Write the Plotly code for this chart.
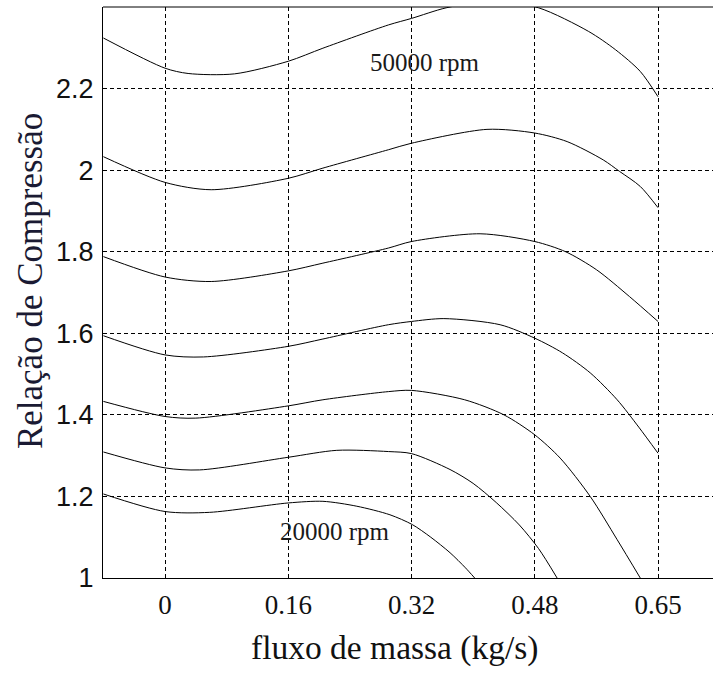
import plotly.graph_objects as go

# Curves: speed lines of the compressor map (x = mass flow kg/s, y = pressure ratio)
x1 = [-0.08, 0.0, 0.03, 0.09, 0.16, 0.205, 0.29, 0.32, 0.365, 0.425, 0.485, 0.55, 0.585, 0.617, 0.64]
y1 = [2.324, 2.25, 2.237, 2.236, 2.267, 2.299, 2.356, 2.372, 2.398, 2.415, 2.398, 2.34, 2.295, 2.242, 2.18]

x2 = [-0.08, 0.0, 0.06, 0.16, 0.205, 0.29, 0.32, 0.418, 0.48, 0.522, 0.569, 0.59, 0.617, 0.64]
y2 = [2.033, 1.970, 1.952, 1.980, 2.005, 2.050, 2.066, 2.100, 2.091, 2.070, 2.025, 1.997, 1.960, 1.908]

x3 = [-0.08, 0.0, 0.06, 0.16, 0.205, 0.29, 0.32, 0.409, 0.48, 0.52, 0.56, 0.603, 0.64]
y3 = [1.788, 1.738, 1.727, 1.753, 1.772, 1.809, 1.825, 1.844, 1.825, 1.80, 1.756, 1.69, 1.629]

x4 = [-0.08, 0.0, 0.05, 0.16, 0.205, 0.29, 0.32, 0.362, 0.435, 0.48, 0.516, 0.552, 0.587, 0.615, 0.64]
y4 = [1.594, 1.547, 1.542, 1.568, 1.586, 1.621, 1.629, 1.636, 1.621, 1.588, 1.552, 1.503, 1.437, 1.37, 1.306]

x5 = [-0.08, 0.0, 0.04, 0.16, 0.205, 0.29, 0.32, 0.389, 0.44, 0.48, 0.513, 0.552, 0.587, 0.617]
y5 = [1.433, 1.396, 1.392, 1.422, 1.437, 1.457, 1.46, 1.437, 1.40, 1.351, 1.294, 1.2, 1.094, 1.0]

x6 = [-0.08, 0.0, 0.045, 0.16, 0.223, 0.29, 0.32, 0.37, 0.40, 0.43, 0.46, 0.485, 0.509]
y6 = [1.309, 1.27, 1.265, 1.296, 1.313, 1.31, 1.305, 1.266, 1.232, 1.185, 1.13, 1.072, 1.0]

x7 = [-0.08, 0.0, 0.058, 0.16, 0.205, 0.249, 0.292, 0.321, 0.345, 0.37, 0.39, 0.402]
y7 = [1.206, 1.163, 1.161, 1.184, 1.188, 1.176, 1.155, 1.131, 1.100, 1.062, 1.025, 1.0]

curves = [(x1, y1), (x2, y2), (x3, y3), (x4, y4), (x5, y5), (x6, y6), (x7, y7)]

x_tickvals = [0, 0.16, 0.32, 0.48, 0.64]
x_ticktext = ["0", "0.16", "0.32", "0.48", "0.65"]
y_tickvals = [1, 1.2, 1.4, 1.6, 1.8, 2, 2.2]
y_ticktext = ["1", "1.2", "1.4", "1.6", "1.8", "2", "2.2"]

label_top = "50000 rpm"
label_bottom = "20000 rpm"
x_title = "fluxo de massa (kg/s)"
y_title = "Relação de Compressão"

fig = go.Figure()
for xs, ys in curves:
    fig.add_trace(go.Scatter(x=xs, y=ys, mode="lines",
                             line=dict(color="black", width=1, shape="spline", smoothing=0.8),
                             showlegend=False, hoverinfo="skip"))

serif = "Liberation Serif, Times New Roman, serif"
sans = "Liberation Sans, Arial, sans-serif"

fig.update_layout(
    width=713, height=675,
    margin=dict(l=103, r=0, t=7, b=97),
    paper_bgcolor="white", plot_bgcolor="white",
    xaxis=dict(range=[-0.0805, 0.7114], tickvals=x_tickvals, ticktext=x_ticktext,
               showgrid=True, gridcolor="black", gridwidth=1, griddash="4px,3px",
               zeroline=False, showline=True, linecolor="black", linewidth=1,
               ticks="inside", ticklen=4, tickcolor="black", ticklabelstandoff=3,
               tickfont=dict(family=serif, size=27, color="#111")),
    yaxis=dict(range=[1, 2.4], tickvals=y_tickvals, ticktext=y_ticktext,
               showgrid=True, gridcolor="black", gridwidth=1, griddash="4px,3px",
               zeroline=False, showline=True, linecolor="black", linewidth=1,
               ticks="inside", ticklen=4, tickcolor="black", ticklabelstandoff=3,
               tickfont=dict(family=sans, size=27, color="#111")),
    shapes=[dict(type="line", xref="paper", yref="paper", x0=0, x1=1, y0=1, y1=1,
                 line=dict(color="black", width=1))],
    annotations=[
        dict(text=label_top, x=0.2635, y=2.263, xref="x", yref="y", xanchor="left",
             yanchor="middle", showarrow=False, font=dict(family=serif, size=25, color="#1a1a1a")),
        dict(text=label_bottom, x=0.1467, y=1.1135, xref="x", yref="y", xanchor="left",
             yanchor="middle", showarrow=False, font=dict(family=serif, size=25, color="#1a1a1a")),
        dict(text=x_title, x=0.478, y=-0.123, xref="paper", yref="paper", xanchor="center",
             yanchor="middle", showarrow=False, font=dict(family=serif, size=33.5, color="#111")),
        dict(text=y_title, x=-0.1197, y=0.52, xref="paper", yref="paper", xanchor="center",
             yanchor="middle", textangle=-90, showarrow=False,
             font=dict(family=serif, size=35, color="#1a1a33")),
    ],
)

fig.write_html("out.html")
